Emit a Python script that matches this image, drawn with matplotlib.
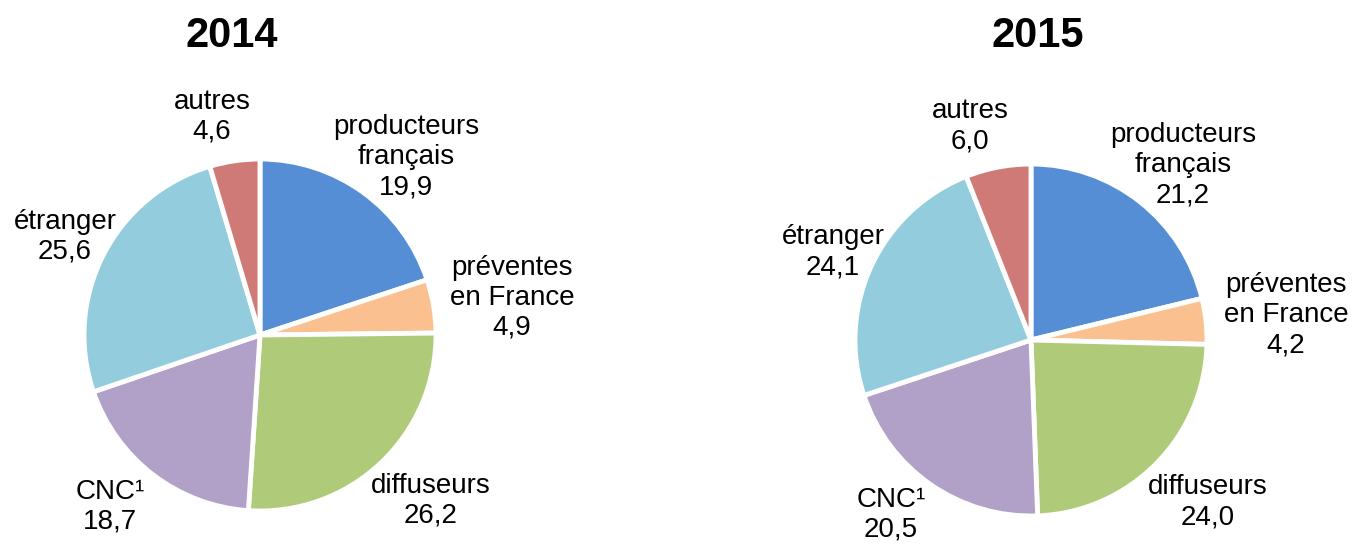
import matplotlib.pyplot as plt

plt.rcParams['font.family'] = ['Liberation Sans', 'DejaVu Sans']

# data (clockwise from 12 o'clock)
categories = ["producteurs\nfrançais", "préventes\nen France", "diffuseurs", "CNC¹", "étranger", "autres"]
values_2014 = [19.9, 4.9, 26.2, 18.7, 25.6, 4.6]
values_2015 = [21.2, 4.2, 24.0, 20.5, 24.1, 6.0]
years = ["2014", "2015"]

colors = ["#558ED5", "#FAC090", "#AFCB7A", "#B1A0C7", "#93CDDD", "#D07A78"]

W, H = 1353, 545
fig = plt.figure(figsize=(W / 100, H / 100), dpi=100)

# layout in pixels: pie centre, radius, title x, label positions
layouts = [
    dict(cx=260, cy=335, r=176, tx=232,
         labels=[(406, 157), (512, 298), (431, 501), (110, 507), (65, 237), (212, 117)]),
    dict(cx=1031, cy=340, r=176, tx=1038,
         labels=[(1183, 165), (1286, 315), (1208, 502), (891, 515), (833, 252), (970, 126)]),
]


def fmt(v):
    return f"{v:.1f}".replace(".", ",")


for year, vals, lay in zip(years, [values_2014, values_2015], layouts):
    cx, cy, r = lay["cx"], lay["cy"], lay["r"]
    ax = fig.add_axes([(cx - r) / W, 1 - (cy + r) / H, 2 * r / W, 2 * r / H])
    ax.pie(vals, colors=colors, startangle=90, counterclock=False, radius=1,
           wedgeprops=dict(edgecolor="white", linewidth=3.5))
    ax.set_xlim(-1.0, 1.0)
    ax.set_ylim(-1.0, 1.0)
    ax.set_aspect("equal")
    ax.axis("off")

    fig.text(lay["tx"] / W, 1 - 47 / H, year, ha="center", va="baseline",
             fontsize=30, fontweight="bold")

    for cat, v, (lx, ly) in zip(categories, vals, lay["labels"]):
        fig.text(lx / W, 1 - ly / H, f"{cat}\n{fmt(v)}", ha="center", va="center",
                 fontsize=20, linespacing=1.2)

fig.savefig("out.png", dpi=100)
